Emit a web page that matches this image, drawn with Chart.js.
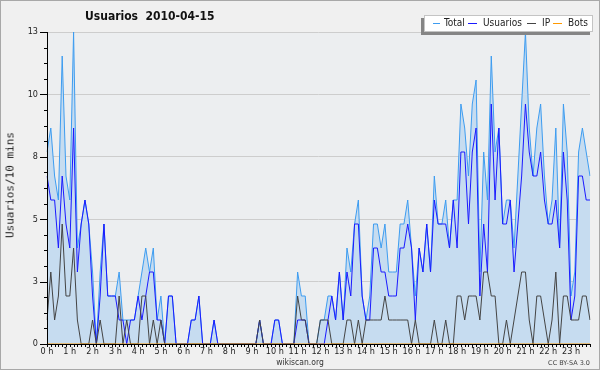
<!DOCTYPE html>
<html>
<head>
<meta charset="utf-8">
<script src="https://cdn.jsdelivr.net/npm/chart.js@4/dist/chart.umd.min.js"></script>
<style>
  html, body { margin: 0; padding: 0; background: #f0f0f0; }
  #box { position: relative; width: 600px; height: 370px; overflow: hidden; font-family: "DejaVu Sans", sans-serif; }
  #chart { position: absolute; left: 0; top: 0; }
  #frame { position: absolute; left: 0; top: 0; width: 600px; height: 370px; box-sizing: border-box; border: 1px solid #a8a8a8; pointer-events: none; }
  #title { position: absolute; left: 85px; top: 9px; font: bold 12px "DejaVu Sans Condensed", sans-serif; color: #111; white-space: pre; }
  #ytitle { position: absolute; left: 10px; top: 185px; transform: translate(-50%, -50%) rotate(-90deg); font: 11px "DejaVu Sans Mono", monospace; color: #222; white-space: nowrap; }
  #legend { position: absolute; left: 424px; top: 15px; width: 167px; height: 15px; background: #fff; border: 1px solid #c4c4c4; box-shadow: -3px 3px 0 #858585; font: 10px "DejaVu Sans Condensed", sans-serif; color: #222; }
  #legend span { position: absolute; top: 1px; white-space: nowrap; }
  #legend i { position: absolute; top: 7px; height: 1px; }
  #site { position: absolute; left: 0; width: 600px; top: 357px; text-align: center; font: 8.5px "DejaVu Sans Condensed", sans-serif; color: #333; }
  #lic { position: absolute; right: 10px; top: 359px; font: 6.5px "DejaVu Sans", sans-serif; color: #444; }
</style>
</head>
<body>
<div id="box">
  <canvas id="chart" width="600" height="370"></canvas>
  <div id="title">Usuarios  2010-04-15</div>
  <div id="ytitle">Usuarios/10 mins</div>
  <div id="legend">
    <i style="left:8px;width:7px;background:#3d9cf0"></i><span style="left:19px">Total</span>
    <i style="left:43px;width:9px;background:#1a1aff"></i><span style="left:58px">Usuarios</span>
    <i style="left:102px;width:9px;background:#444"></i><span style="left:117px">IP</span>
    <i style="left:128px;width:9px;background:#ff9900"></i><span style="left:143px">Bots</span>
  </div>
  <div id="site">wikiscan.org</div>
  <div id="lic">CC BY-SA 3.0</div>
  <div id="frame"></div>
</div>
<script>
  // hour tick labels, one every 6 slots of 10 minutes
  const hourLabels = ['0 h','1 h','2 h','3 h','4 h','5 h','6 h','7 h','8 h','9 h','10 h','11 h',
                      '12 h','13 h','14 h','15 h','16 h','17 h','18 h','19 h','20 h','21 h','22 h','23 h'];
  const slots = [];
  for (let h = 0; h < 24; h++) for (let m = 0; m < 60; m += 10) slots.push(h + ':' + String(m).padStart(2, '0'));

  const yTicks = [0, 2.6, 5.2, 7.8, 10.4, 13];
  const yTickLabels = ['0', '3', '5', '8', '10', '13'];

  const total = [
    8, 9, 7, 6, 12, 7, 6, 13, 4, 5, 6, 5, 3, 0, 3, 5, 2, 2, 2, 3, 1, 1, 1, 1,
    2, 3, 4, 3, 4, 1, 2, 0, 2, 2, 0, 0, 0, 0, 1, 1, 2, 0, 0, 0, 1, 0, 0, 0,
    0, 0, 0, 0, 0, 0, 0, 0, 1, 0, 0, 0, 1, 1, 0, 0, 0, 0, 3, 2, 2, 0, 0, 0,
    1, 1, 2, 2, 1, 3, 1, 4, 3, 5, 6, 2, 1, 2, 5, 5, 4, 5, 3, 3, 3, 5, 5, 6,
    4, 2, 4, 3, 5, 3, 7, 5, 5, 6, 4, 6, 6, 10, 9, 7, 10, 11, 3, 8, 6, 12, 8, 9,
    5, 6, 6, 4, 7, 10, 13, 9, 7, 9, 10, 7, 5, 6, 9, 4, 10, 8, 2, 3, 8, 9, 8, 7
  ];
  const usuarios = [
    7, 6, 6, 4, 7, 5, 4, 9, 3, 5, 6, 5, 2, 0, 2, 5, 2, 2, 2, 1, 1, 0, 1, 1,
    2, 1, 2, 3, 3, 1, 1, 0, 2, 2, 0, 0, 0, 0, 1, 1, 2, 0, 0, 0, 1, 0, 0, 0,
    0, 0, 0, 0, 0, 0, 0, 0, 1, 0, 0, 0, 1, 1, 0, 0, 0, 0, 1, 1, 1, 0, 0, 0,
    0, 0, 1, 2, 1, 3, 1, 3, 2, 5, 5, 2, 1, 1, 4, 4, 3, 3, 2, 2, 2, 4, 4, 5,
    4, 1, 4, 3, 5, 3, 6, 5, 5, 5, 4, 6, 4, 8, 8, 5, 8, 9, 2, 5, 3, 10, 6, 9,
    5, 5, 6, 3, 5, 7, 10, 8, 7, 7, 8, 6, 5, 5, 6, 4, 8, 6, 1, 2, 7, 7, 6, 6
  ];
  const ip = [
    1, 3, 1, 2, 5, 2, 2, 4, 1, 0, 0, 0, 1, 0, 1, 0, 0, 0, 0, 2, 0, 1, 0, 0,
    0, 2, 2, 0, 1, 0, 1, 0, 0, 0, 0, 0, 0, 0, 0, 0, 0, 0, 0, 0, 0, 0, 0, 0,
    0, 0, 0, 0, 0, 0, 0, 0, 1, 0, 0, 0, 0, 0, 0, 0, 0, 0, 2, 1, 1, 0, 0, 0,
    1, 1, 1, 0, 0, 0, 0, 1, 1, 0, 1, 0, 1, 1, 1, 1, 1, 2, 1, 1, 1, 1, 1, 1,
    0, 1, 0, 0, 0, 0, 1, 0, 0, 1, 0, 0, 2, 2, 1, 2, 2, 2, 1, 3, 3, 2, 2, 0,
    0, 1, 0, 1, 2, 3, 3, 1, 0, 2, 2, 1, 0, 1, 3, 0, 2, 2, 1, 1, 1, 2, 2, 1
  ];
  const bots = [
    0, 0, 0, 0, 0, 0, 0, 0, 0, 0, 0, 0, 0, 0, 0, 0, 0, 0, 0, 0, 0, 0, 0, 0,
    0, 0, 0, 0, 0, 0, 0, 0, 0, 0, 0, 0, 0, 0, 0, 0, 0, 0, 0, 0, 0, 0, 0, 0,
    0, 0, 0, 0, 0, 0, 0, 0, 0, 0, 0, 0, 0, 0, 0, 0, 0, 0, 0, 0, 0, 0, 0, 0,
    0, 0, 0, 0, 0, 0, 0, 0, 0, 0, 0, 0, 0, 0, 0, 0, 0, 0, 0, 0, 0, 0, 0, 0,
    0, 0, 0, 0, 0, 0, 0, 0, 0, 0, 0, 0, 0, 0, 0, 0, 0, 0, 0, 0, 0, 0, 0, 0,
    0, 0, 0, 0, 0, 0, 0, 0, 0, 0, 0, 0, 0, 0, 0, 0, 0, 0, 0, 0, 0, 0, 0, 0
  ];

  // background of page and plot area
  const bgPlugin = {
    id: 'bg',
    beforeDraw(chart) {
      const { ctx, chartArea: a } = chart;
      ctx.save();
      ctx.fillStyle = '#f0f0f0';
      ctx.fillRect(0, 0, chart.width, chart.height);
      ctx.fillStyle = '#eceef0';
      ctx.fillRect(a.left, a.top, a.right - a.left, a.bottom - a.top);
      ctx.restore();
    }
  };

  // black axes with major/minor tick marks, drawn over the data
  const axesPlugin = {
    id: 'axes',
    afterDatasetsDraw(chart) {
      const { ctx, chartArea: a, scales: { x, y } } = chart;
      ctx.save();
      ctx.strokeStyle = '#000';
      ctx.lineWidth = 1;
      ctx.beginPath();
      ctx.moveTo(a.left + 0.5, a.top);
      ctx.lineTo(a.left + 0.5, a.bottom + 0.5);
      ctx.lineTo(a.right, a.bottom + 0.5);
      // y ticks: major at labelled values, minor every quarter step
      for (let k = 0; k <= 20; k++) {
        const py = Math.round(y.getPixelForValue(13 * k / 20)) + 0.5;
        const len = k % 4 === 0 ? 7 : 3;
        ctx.moveTo(a.left - len, py);
        ctx.lineTo(a.left, py);
      }
      // x ticks: every 10 minutes
      slots.forEach((s, i) => {
        const px = Math.round(x.getPixelForValue(i)) + 0.5;
        ctx.moveTo(px, a.bottom);
        ctx.lineTo(px, a.bottom + 3);
      });
      ctx.stroke();
      ctx.restore();
    }
  };

  new Chart(document.getElementById('chart'), {
    type: 'line',
    data: {
      labels: slots,
      datasets: [
        { label: 'Total', data: total, borderColor: '#3d9cf0', backgroundColor: '#c6dcf0', fill: 'origin', order: 3 },
        { label: 'Usuarios', data: usuarios, borderColor: '#1a1aff', fill: false, order: 2 },
        { label: 'IP', data: ip, borderColor: '#444444', fill: false, order: 1 },
        { label: 'Bots', data: bots, borderColor: '#ff9900', fill: false, order: 0 }
      ]
    },
    options: {
      responsive: false,
      animation: false,
      elements: { point: { radius: 0 }, line: { borderWidth: 1, tension: 0 } },
      layout: { padding: { top: 32, right: 10, left: 0, bottom: 0 } },
      plugins: { legend: { display: false }, tooltip: { enabled: false } },
      scales: {
        x: {
          type: 'category',
          offset: false,
          grid: { display: false, drawTicks: false },
          border: { display: false },
          ticks: {
            autoSkip: false, maxRotation: 0, minRotation: 0, padding: 2,
            color: '#222', font: { family: 'DejaVu Sans Condensed', size: 9 },
            callback: (v, i) => (i % 6 === 0 ? hourLabels[i / 6] : '')
          },
          afterFit: s => { s.height = 26; }
        },
        y: {
          min: 0, max: 13,
          afterBuildTicks: s => { s.ticks = yTicks.map(v => ({ value: v })); },
          grid: { color: '#cdcdcd', drawTicks: false },
          border: { display: false },
          ticks: {
            padding: 9, color: '#222', font: { family: 'DejaVu Sans Condensed', size: 9 },
            callback: v => yTickLabels[yTicks.indexOf(v)]
          },
          afterFit: s => { s.width = 47; }
        }
      }
    },
    plugins: [bgPlugin, axesPlugin]
  });
</script>
</body>
</html>
